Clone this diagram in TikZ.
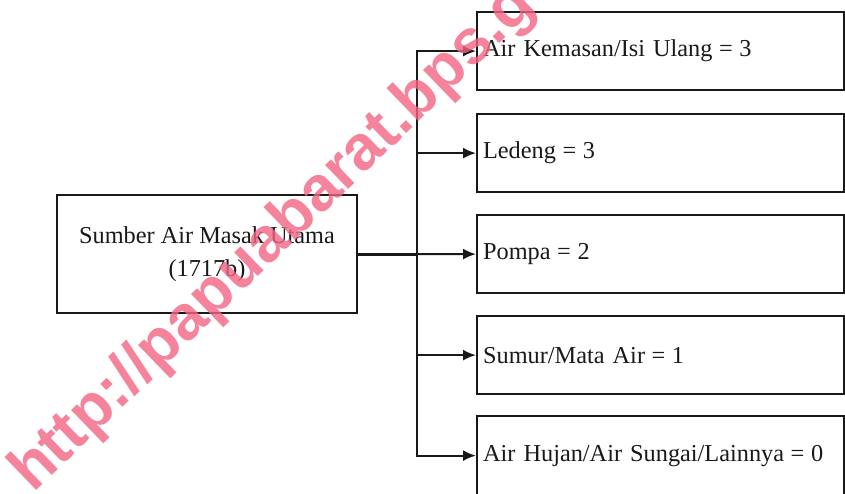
\documentclass[tikz,border=0pt]{standalone}
\usepackage{fontspec}
\setmainfont{Liberation Serif}
\newfontfamily\wmfont{Liberation Sans}
\usetikzlibrary{arrows.meta}
\definecolor{wmpink}{RGB}{242,100,130}
\definecolor{ink}{RGB}{25,25,25}
\begin{document}
\begin{tikzpicture}[x=1pt,y=-1pt,
  box/.style={draw=ink,line width=2.2pt,inner sep=0pt,
    font=\fontsize{24.3}{33}\selectfont,text=ink},
  leaf/.style={box,minimum width=367pt,minimum height=78pt,anchor=north west,
    text width=355pt,align=left,inner xsep=6pt},
  link/.style={draw=ink,line width=2pt},
  arr/.style={link,-{Latex[length=13pt,width=11pt]}}]
\useasboundingbox (0,0) rectangle (845,493);
\fill[white] (0,0) rectangle (845,493);
\node[box,minimum width=300pt,minimum height=118pt,align=center] (src) at (207,254)
  {Sumber Air Masak Utama\\(1717b)};
\node[leaf] (b1) at (476,11) {Air Kemasan/Isi Ulang\hspace{-1.5pt} = \hspace{-1.5pt}3};
\node[leaf] (b2) at (476,113) {Ledeng\hspace{-1.5pt} = \hspace{-1.5pt}3};
\node[leaf] (b3) at (476,214) {Pompa\hspace{-1.5pt} = \hspace{-1.5pt}2};
\node[leaf] (b4) at (476,315) {Sumur/Mata Air\hspace{-1.5pt} = \hspace{-1.5pt}1};
\node[leaf,minimum height=79pt] (b5) at (476,415) {Air Hujan/Air Sungai/Lainnya\hspace{-1.5pt} = \hspace{-1.5pt}0};
\coordinate (j) at (417,254);
\draw[link,line width=3pt] (src.east) -- (j);
\draw[arr] (j) |- (b1.west);
\draw[arr] (j) |- (b5.west);
\draw[arr] (j |- b2.west) -- (b2.west);
\draw[arr] (j) -- (b3.west);
\draw[arr] (j |- b4.west) -- (b4.west);
\node[anchor=base west,rotate=44,inner sep=0pt,text=wmpink,opacity=0.8,
  font=\wmfont\bfseries\fontsize{63}{63}\selectfont] (wm) at (33,494)
  {http://papuabarat.bps.go.id};
\end{tikzpicture}
\end{document}
